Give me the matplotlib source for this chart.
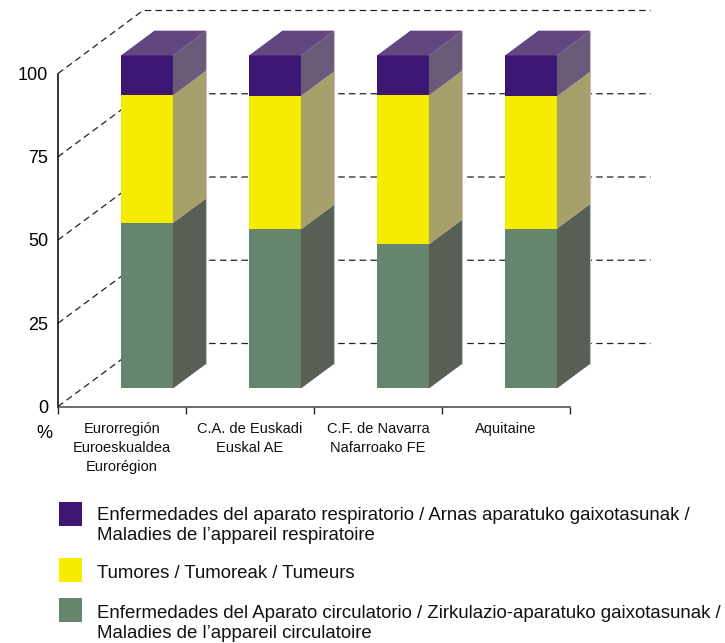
import matplotlib
matplotlib.use('Agg')
import matplotlib.pyplot as plt
from matplotlib.patches import Rectangle

plt.rcParams['font.family'] = ['Liberation Sans', 'DejaVu Sans']

categories = ['Eurorregión\nEuroeskualdea\nEurorégion',
              'C.A. de Euskadi\nEuskal AE',
              'C.F. de Navarra\nNafarroako FE',
              'Aquitaine']
circulatorio = [49.7, 47.8, 43.3, 48.0]
tumores = [38.3, 40.0, 44.7, 39.7]
respiratorio = [12.0, 12.2, 12.0, 12.3]
y_ticks = [0, 25, 50, 75, 100]

legend_labels = ['Enfermedades del aparato respiratorio / Arnas aparatuko gaixotasunak /\nMaladies de l’appareil respiratoire',
                 'Tumores / Tumoreak / Tumeurs',
                 'Enfermedades del Aparato circulatorio / Zirkulazio-aparatuko gaixotasunak /\nMaladies de l’appareil circulatoire']

W, H = 725, 643
PX_X = 128.0  # pixels per category
PX_Y = 3.33   # pixels per percent
DEPTH_X = 85 / PX_X
DEPTH_Y = 63 / PX_Y

fig = plt.figure(figsize=(W / 100, H / 100), dpi=100)
ax = fig.add_axes([58.0 / W, (H - 406.5) / H, 512 / W, 333 / H])
ax.set_xlim(0, 4)
ax.set_ylim(0, 100)
ax.patch.set_alpha(0)


def project(x, v, d):
    # d is the depth into the box, 0 front wall, 1 back wall
    return x + d * DEPTH_X, v + d * DEPTH_Y


# gridlines on the floor side and the back
for t in y_ticks:
    x0, y0 = project(0, t, 0)
    x1, y1 = project(0, t, 1)
    ax.plot([x0, x1, 4.63], [y0, y1, y1], color='#222222', lw=0.9,
            dashes=(5.2, 3.4), clip_on=False, zorder=1)

bar_left = 0.302
bar_w = 0.406
d_front = 0.286
d_back = 0.68


def draw_segment(i, low, high, front, side):
    xl = i + bar_left
    xr = xl + bar_w
    a = project(xl, low, d_front)
    b = project(xr, high, d_front)
    ax.fill([a[0], b[0], b[0], a[0]], [a[1], a[1], b[1], b[1]],
            color=front, lw=0, zorder=3, clip_on=False)
    c = project(xr, low, d_back)
    d = project(xr, high, d_back)
    ax.fill([b[0], c[0], d[0], b[0]], [a[1], c[1], d[1], b[1]],
            color=side, lw=0, zorder=3, clip_on=False)
    ax.plot([c[0], d[0]], [c[1], d[1]], color='#c4c2c4', lw=0.8, zorder=4,
            clip_on=False)


for i in range(len(categories)):
    g = circulatorio[i]
    t = g + tumores[i]
    r = t + respiratorio[i]
    draw_segment(i, 0, g, '#65866c', '#585f55')
    draw_segment(i, g, t, '#f5ec00', '#a6a06b')
    draw_segment(i, t, r, '#3d1673', '#6b5b7a')
    # top of the bar
    xl = i + bar_left
    xr = xl + bar_w
    p = [project(xl, r, d_front), project(xr, r, d_front),
         project(xr, r, d_back), project(xl, r, d_back)]
    ax.fill([q[0] for q in p], [q[1] for q in p], color='#614680',
            lw=0, zorder=3, clip_on=False)

for s in ['top', 'right']:
    ax.spines[s].set_visible(False)
ax.spines['left'].set_color('black')
ax.spines['left'].set_linewidth(1.1)
ax.spines['bottom'].set_color('#444444')
ax.spines['bottom'].set_linewidth(1.1)

ax.set_yticks(y_ticks)
ax.tick_params(axis='y', length=0, pad=7, labelsize=13)
ax.set_xticks(range(5))
ax.set_xticklabels([])
ax.tick_params(axis='x', length=5, width=1, color='#222222')

for i, c in enumerate(categories):
    fig.text((58.0 + PX_X * (i + 0.5)) / W, 1 - 422 / H, c, ha='center', va='top',
             fontsize=10.5, linespacing=1.47, color='#111111')

fig.text(44 / W, 1 - 433 / H, '%', ha='center', va='center', fontsize=13)

# legend, by hand
legend_colors = ['#3d1673', '#f5ec00', '#65866c']
legend_y = [502, 558, 598]
text_y = [516, 574, 614]
for col, y, ty, lab in zip(legend_colors, legend_y, text_y, legend_labels):
    fig.add_artist(Rectangle((59 / W, 1 - (y + 24) / H), 23 / W, 24 / H,
                             transform=fig.transFigure, color=col, lw=0))
    fig.text(97 / W, 1 - (ty - 9) / H, lab, ha='left', va='top',
             fontsize=13.4, linespacing=1.25, color='#111111')

fig.savefig('out.png', dpi=100)
